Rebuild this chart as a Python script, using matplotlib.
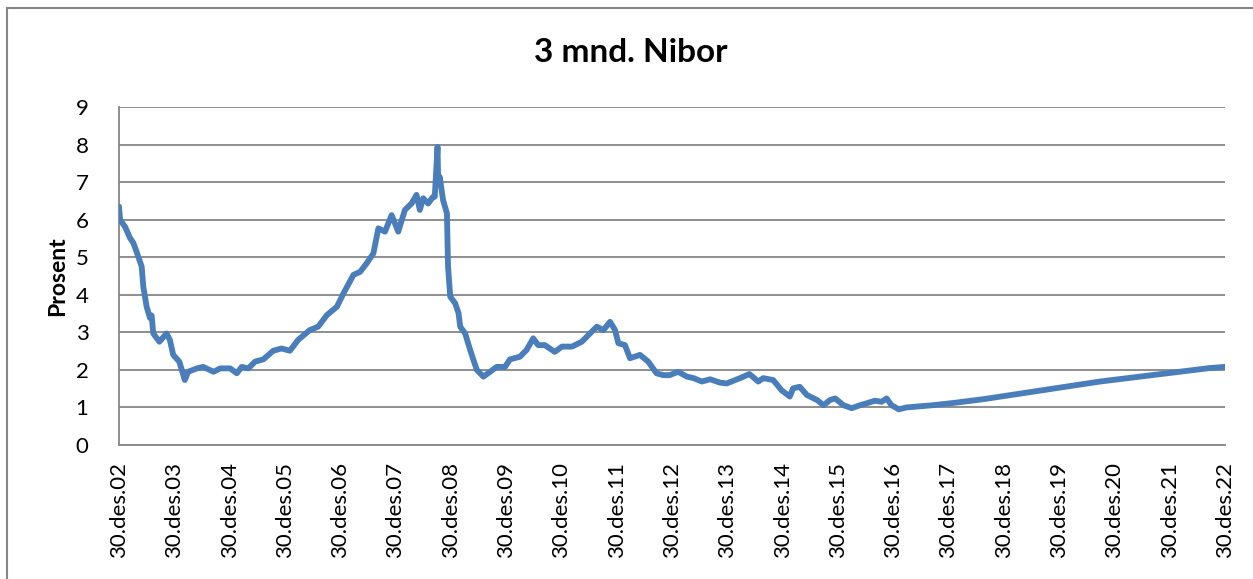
import matplotlib
matplotlib.use("Agg")
import matplotlib.pyplot as plt
from matplotlib.patches import Rectangle

# 3 mnd. Nibor (time as decimal years, 2003.0 = 30.des.02)
years = [
    2003.00, 2003.02, 2003.11, 2003.20, 2003.26, 2003.35, 2003.41, 2003.44, 2003.50, 2003.56,
    2003.59, 2003.62, 2003.73, 2003.86, 2003.92, 2003.98, 2004.09, 2004.19, 2004.25, 2004.41,
    2004.52, 2004.71, 2004.83, 2005.01, 2005.13, 2005.22, 2005.34, 2005.46, 2005.61, 2005.79,
    2005.94, 2006.09, 2006.24, 2006.45, 2006.60, 2006.76, 2006.94, 2007.06, 2007.24, 2007.36,
    2007.48, 2007.60, 2007.69, 2007.81, 2007.93, 2008.05, 2008.17, 2008.29, 2008.38, 2008.44,
    2008.50, 2008.59, 2008.68, 2008.71, 2008.76, 2008.77, 2008.79, 2008.80, 2008.86, 2008.93,
    2008.95, 2008.99, 2009.08, 2009.14, 2009.17, 2009.26, 2009.35, 2009.47, 2009.59, 2009.71,
    2009.83, 2009.98, 2010.07, 2010.25, 2010.37, 2010.49, 2010.58, 2010.70, 2010.88, 2011.01,
    2011.19, 2011.37, 2011.49, 2011.64, 2011.76, 2011.88, 2011.97, 2012.03, 2012.15, 2012.24,
    2012.42, 2012.57, 2012.72, 2012.84, 2012.96, 2013.11, 2013.27, 2013.39, 2013.54, 2013.69,
    2013.87, 2013.99, 2014.23, 2014.40, 2014.56, 2014.65, 2014.83, 2014.98, 2015.13, 2015.19,
    2015.31, 2015.44, 2015.62, 2015.74, 2015.86, 2015.95, 2016.10, 2016.25, 2016.40, 2016.52,
    2016.67, 2016.79, 2016.88, 2016.97, 2017.10, 2017.24, 2017.72, 2018.09, 2018.63, 2019.53,
    2020.74, 2021.95, 2022.73, 2023.00,
]
nibor = [
    6.35, 5.99, 5.81, 5.51, 5.38, 5.01, 4.75, 4.21, 3.68, 3.38,
    3.45, 2.97, 2.75, 2.97, 2.80, 2.40, 2.22, 1.73, 1.95, 2.04,
    2.08, 1.95, 2.04, 2.04, 1.91, 2.08, 2.04, 2.22, 2.28, 2.51,
    2.57, 2.51, 2.80, 3.06, 3.15, 3.46, 3.68, 4.04, 4.53, 4.61,
    4.84, 5.10, 5.77, 5.68, 6.12, 5.68, 6.26, 6.43, 6.66, 6.26,
    6.57, 6.43, 6.61, 6.61, 7.94, 7.20, 6.97, 7.14, 6.52, 6.17,
    4.75, 3.95, 3.77, 3.51, 3.15, 2.97, 2.53, 2.00, 1.82, 1.95,
    2.08, 2.08, 2.28, 2.35, 2.53, 2.84, 2.66, 2.66, 2.48, 2.62,
    2.62, 2.75, 2.93, 3.15, 3.06, 3.28, 3.06, 2.71, 2.66, 2.31,
    2.40, 2.22, 1.91, 1.86, 1.86, 1.95, 1.82, 1.78, 1.69, 1.75,
    1.66, 1.64, 1.78, 1.89, 1.69, 1.78, 1.73, 1.46, 1.29, 1.51,
    1.55, 1.33, 1.20, 1.06, 1.20, 1.24, 1.06, 0.98, 1.06, 1.11,
    1.18, 1.15, 1.24, 1.06, 0.95, 1.00, 1.06, 1.12, 1.22, 1.42,
    1.69, 1.91, 2.05, 2.08,
]

tick_years = list(range(2003, 2024))
tick_labels = ["30.des.%02d" % (y - 2001) for y in tick_years]
y_ticks = list(range(0, 10))

plt.rcParams['font.family'] = ['Lato', 'DejaVu Sans']

fig = plt.figure(figsize=(12.53, 5.79), dpi=100)
ax = fig.add_axes([119 / 1253, 1 - 445 / 579, (1225 - 119) / 1253, (445 - 107) / 579])

ax.plot(years, nibor, color='#4A7EBB', lw=4.2, solid_joinstyle='round', solid_capstyle='round', zorder=3)

ax.set_xlim(2003, 2023)
ax.set_ylim(0, 9)
ax.set_xticks(tick_years)
ax.set_xticklabels(tick_labels, rotation=90, fontsize=16)
ax.set_yticks(y_ticks)
ax.tick_params(axis='y', labelsize=16, length=0, pad=22)
ax.tick_params(axis='x', length=0, pad=12)
ax.grid(axis='y', color='#868686', lw=1.3)
ax.set_axisbelow(True)

for side in ['top', 'right']:
    ax.spines[side].set_visible(False)
for side in ['left', 'bottom']:
    ax.spines[side].set_color('#868686')
    ax.spines[side].set_linewidth(1.3)

ax.set_ylabel('Prosent', fontsize=16.5, fontweight='bold', labelpad=5)
fig.text(0.503, 1 - 52 / 579, '3 mnd. Nibor', ha='center', va='center',
         fontsize=24, fontweight='bold')

# chart border (cut by the picture on right and bottom)
fig.patches.append(Rectangle((7 / 1253, -0.1), 2, 1 - 8 / 579 + 0.1, transform=fig.transFigure,
                             fill=False, edgecolor='#868686', lw=1.5))

fig.savefig('out.png', dpi=100)
